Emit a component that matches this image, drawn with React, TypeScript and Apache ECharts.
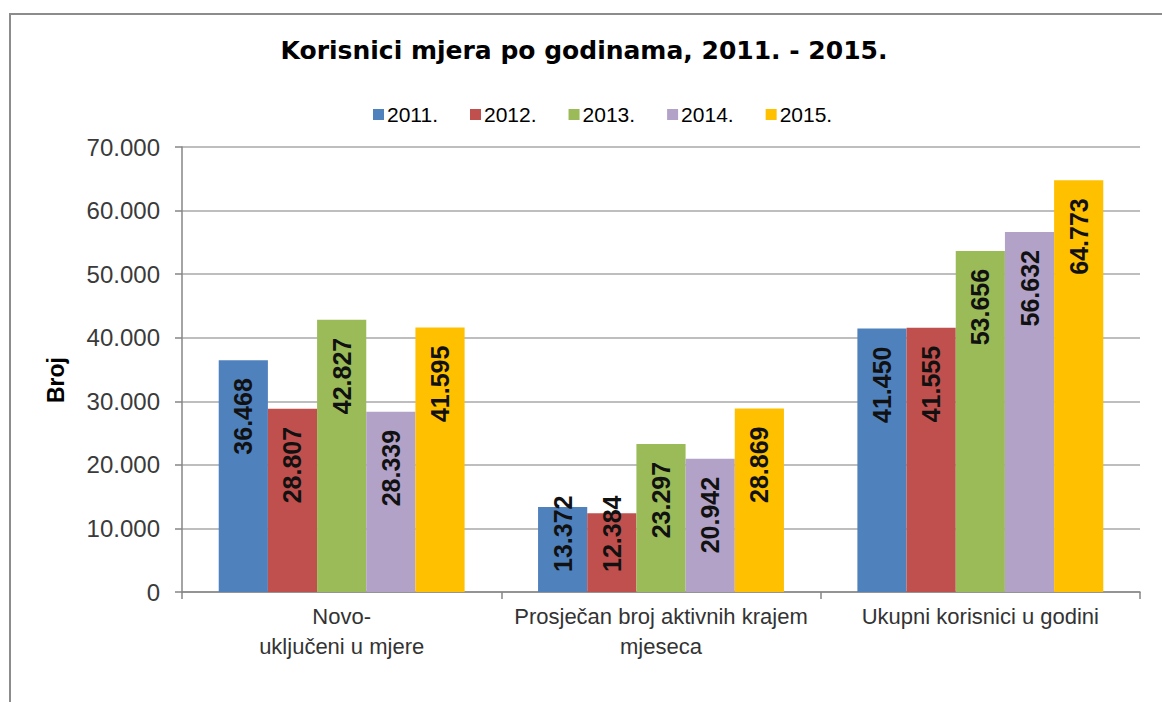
import React, { useEffect, useRef } from "react";
import * as echarts from "echarts";

const categories = [
  "Novo-\nuključeni u mjere",
  "Prosječan broj aktivnih krajem\nmjeseca",
  "Ukupni korisnici u godini",
];
const years = ["2011.", "2012.", "2013.", "2014.", "2015."];
const values2011 = [36468, 13372, 41450];
const values2012 = [28807, 12384, 41555];
const values2013 = [42827, 23297, 53656];
const values2014 = [28339, 20942, 56632];
const values2015 = [41595, 28869, 64773];
const seriesValues = [values2011, values2012, values2013, values2014, values2015];
const colors = ["#4F81BD", "#C0504D", "#9BBB59", "#B2A2C7", "#FFC000"];
const yTicks = { min: 0, max: 70000, interval: 10000 };
const yAxisTitle = "Broj";

const fmt = (v: number) =>
  v === 0 ? "0" : String(Math.round(v)).replace(/\B(?=(\d{3})+(?!\d))/g, ".");

// labels of short bars sit near the bar's base, like the spreadsheet does
const SHORT_BAR = 17500;

export default function App() {
  const ref = useRef<HTMLDivElement>(null);
  useEffect(() => {
    if (!ref.current) return;
    const chart = echarts.init(ref.current, null, { renderer: "svg" });
    const labelBase = {
      show: true,
      rotate: 90,
      position: ["50%", 18],
      align: "right",
      verticalAlign: "middle",
      fontFamily: "'Liberation Sans', Arial, sans-serif",
      fontWeight: "bold",
      fontSize: 25,
      color: "#111111",
      formatter: (p: any) => fmt(p.value),
    };
    chart.setOption({
      animation: false,
      backgroundColor: "#ffffff",
      title: {
        text: "Korisnici mjera po godinama, 2011. - 2015.",
        left: 584,
        textAlign: "center",
        top: 38,
        padding: 0,
        textStyle: {
          fontFamily: "'DejaVu Sans', sans-serif",
          fontWeight: "bold",
          fontSize: 25,
          color: "#000000",
        },
      },
      legend: {
        data: years,
        left: 368,
        top: 99,
        itemWidth: 11,
        itemHeight: 11,
        itemGap: 32,
        icon: "rect",
        textStyle: {
          fontFamily: "'Liberation Sans', Arial, sans-serif",
          fontSize: 21,
          color: "#000000",
          padding: [0, 0, 0, -2],
        },
      },
      grid: { left: 182, right: 22, top: 147, bottom: 110, containLabel: false },
      xAxis: {
        type: "category",
        data: categories,
        axisLine: { lineStyle: { color: "#868686", width: 1.5 } },
        axisTick: { show: true, length: 7, lineStyle: { color: "#868686", width: 1.5 } },
        axisLabel: {
          margin: 9,
          fontFamily: "'Liberation Sans', Arial, sans-serif",
          fontSize: 22,
          lineHeight: 30,
          color: "#333333",
          interval: 0,
        },
      },
      yAxis: {
        type: "value",
        min: yTicks.min,
        max: yTicks.max,
        interval: yTicks.interval,
        axisLine: { show: true, lineStyle: { color: "#868686", width: 1.5 } },
        axisTick: { show: true, length: 7, lineStyle: { color: "#868686", width: 1.5 } },
        splitLine: { lineStyle: { color: "#a8a8a8", width: 1.5 } },
        axisLabel: {
          margin: 22,
          fontFamily: "'Liberation Sans', Arial, sans-serif",
          fontSize: 24,
          color: "#3a3a3a",
          formatter: (v: number) => fmt(v),
        },
      },
      series: years.map((y, i) => ({
        name: y,
        type: "bar",
        barGap: "0%",
        barCategoryGap: "23%",
        itemStyle: { color: colors[i] },
        label: labelBase,
        data: seriesValues[i].map((v) =>
          v < SHORT_BAR
            ? {
                value: v,
                label: {
                  position: "insideBottom",
                  distance: 20,
                  align: "left",
                  verticalAlign: "middle",
                },
              }
            : v
        ),
      })),
      color: colors,
      graphic: [
        {
          type: "rect",
          shape: { x: 10, y: 14, width: 1400, height: 1000 },
          style: { fill: "none", stroke: "#8c8c8c", lineWidth: 2 },
          silent: true,
        },
        {
          type: "text",
          x: 56,
          y: 380,
          rotation: Math.PI / 2,
          silent: true,
          style: {
            text: yAxisTitle,
            align: "center",
            verticalAlign: "middle",
            fontFamily: "'Liberation Sans', Arial, sans-serif",
            fontWeight: "bold",
            fontSize: 23,
            fill: "#000000",
          },
        },
      ],
    });
    return () => chart.dispose();
  }, []);
  return (
    <div
      ref={ref}
      style={{ position: "fixed", left: 0, top: 0, width: 1162, height: 702 }}
    />
  );
}
